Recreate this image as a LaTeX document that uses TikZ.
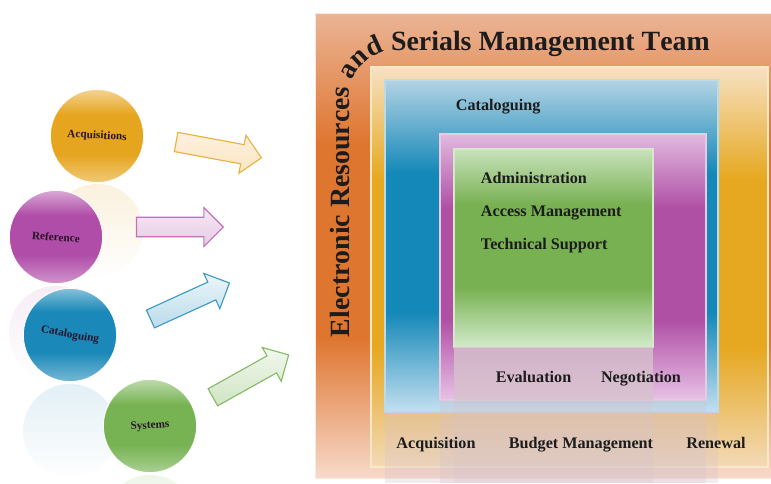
\documentclass[tikz,border=0pt]{standalone}
\usepackage{fontspec}
\setmainfont{Liberation Serif}
\usetikzlibrary{shapes.arrows,decorations.text,fadings}
\definecolor{acqcol}{HTML}{E6A51E}
\definecolor{refcol}{HTML}{B04DA8}
\definecolor{catcol}{HTML}{1A88B8}
\definecolor{syscol}{HTML}{77B353}
\definecolor{outertop}{HTML}{EBB496}
\definecolor{outermid}{HTML}{DF7630}
\definecolor{outerbot}{HTML}{F7DACB}
\definecolor{yeltop}{HTML}{F6E1C2}
\definecolor{yelmid}{HTML}{E6A820}
\definecolor{yelbot}{HTML}{F3DAB8}
\definecolor{bluetop}{HTML}{B3D3E4}
\definecolor{bluemid}{HTML}{1488B8}
\definecolor{bluebot}{HTML}{C4E0F0}
\definecolor{pinktop}{HTML}{E2B9DF}
\definecolor{pinkmid}{HTML}{B050A5}
\definecolor{pinkbot}{HTML}{E8C2E6}
\definecolor{greentop}{HTML}{C9E2BC}
\definecolor{greenmid}{HTML}{78B152}
\definecolor{greenbot}{HTML}{D2EBCB}
\definecolor{reflcol}{HTML}{D6C2CC}
\definecolor{labeltext}{HTML}{2A1428}
\definecolor{itemtext}{HTML}{1C1C1C}
% light at both ends, full colour in between (the path fills 25bp to 75bp)
\newcommand{\glossy}[4]{\pgfdeclareverticalshading{#1}{100bp}
  {color(0bp)=(#2); color(25bp)=(#2); color(40bp)=(#3); color(61bp)=(#3);
   color(75bp)=(#4); color(100bp)=(#4)}}
\glossy{outershade}{outerbot}{outermid}{outertop}
\glossy{yelshade}{yelbot}{yelmid}{yeltop}
\glossy{blueshade}{bluebot}{bluemid}{bluetop}
\glossy{pinkshade}{pinkbot}{pinkmid}{pinktop}
\glossy{greenshade}{greenbot}{greenmid}{greentop}
\glossy{acqshade}{acqcol!60!white}{acqcol}{acqcol!45!white}
\glossy{refshade}{refcol!60!white}{refcol}{refcol!45!white}
\glossy{catshade}{catcol!60!white}{catcol}{catcol!45!white}
\glossy{sysshade}{syscol!60!white}{syscol}{syscol!45!white}

\begin{document}
\begin{tikzpicture}
  [x=0.025cm, y=0.025cm,
  bubble/.style = {circle, minimum size=2.33cm, inner sep=0pt,
                   draw=white, line width=0.6pt,
                   font=\bfseries\fontsize{8}{9}\selectfont, text=labeltext},
  block/.style = {single arrow, minimum height=2.17cm, minimum width=0.95cm,
                  single arrow head extend=0.24cm, inner sep=0.23cm,
                  line width=0.8pt},
  item/.style = {font=\bfseries\fontsize{11.5}{13}\selectfont, text=itemtext}]
  \clip (0,0) rectangle (771,483);
  \fill[white] (0,0) rectangle (771,483);
  % Reflections of the circles
  \fill[acqcol, opacity=0.15, path fading=south] (97,253) circle (46);
  \fill[refcol, opacity=0.1, path fading=south] (56,150) circle (47);
  \fill[catcol, opacity=0.12, path fading=south] (70,52) circle (47);
  \fill[syscol, opacity=0.12, path fading=south] (150,-38) circle (46);
  % Circles
  \node[bubble, shading=acqshade, rotate=-3] (acq) at (97,347) {Acquisitions};
  \node[bubble, shading=refshade, rotate=-4] (ref) at (56,246) {Reference};
  \node[bubble, shading=catshade, rotate=-10] (cat) at (70,148) {Cataloguing};
  \node[bubble, shading=sysshade, rotate=4] (sys) at (150,57) {Systems};
  % Arrows
  \node[block, draw=acqcol!85!white, top color=white!88!orange,
        bottom color=acqcol!28!white, rotate=-10.5] (toacq) at (214,334) {};
  \node[block, draw=refcol!80!white, top color=refcol!12!white,
        bottom color=refcol!30!white] (toref) at (175,256) {};
  \node[block, draw=catcol!85!white, top color=catcol!8!white,
        bottom color=catcol!30!white, rotate=24.5] (tocat) at (185.5,180) {};
  \node[block, draw=syscol!90!white, top color=syscol!10!white,
        bottom color=syscol!35!white, rotate=29.2] (tosys) at (246.5,104.5) {};
  % Nested boxes
  \shade[shading=outershade] (315,5) rectangle (780,470);
  \draw[white!70!outertop, line width=0.6pt] (315,5) rectangle (780,470);
  \shade[shading=yelshade] (371,16) rectangle (768,416);
  \draw[white!75!yelmid, line width=1pt] (371,16) rectangle (768,416);
  \shade[shading=blueshade] (385,71) rectangle (718,403);
  \draw[white!70!bluemid, line width=0.8pt] (385,71) rectangle (718,403);
  \shade[shading=pinkshade] (440,83) rectangle (706,349);
  \draw[white!70!pinkmid, line width=0.8pt] (440,83) rectangle (706,349);
  \shade[shading=greenshade] (454,136) rectangle (653,334);
  \draw[white!70!greenmid, line width=0.8pt] (454,136) rectangle (653,334);
  % Reflections of the boxes
  \fill[reflcol, opacity=0.3] (385,0) rectangle (718,71);
  \fill[reflcol, opacity=0.3] (440,0) rectangle (706,83);
  \fill[reflcol, opacity=0.8] (454,83) rectangle (653,136);
  \fill[reflcol, opacity=0.25] (454,0) rectangle (653,83);
  % Title
  \path[decorate, decoration={text along path, text align=left,
        text={|\color{itemtext}\bfseries\fontsize{19.8}{22}\selectfont|Electronic Resources and Serials Management Team}}]
    [rounded corners=1.2cm] (349,146) -- (349,433) -- (760,433);
  % Team tasks
  \node[item, anchor=base west] (catalog) at (451,373) {Cataloguing};
  \node[item, anchor=base west] (admin) at (476,300) {Administration};
  \node[item, anchor=base west] (access) at (476,267) {Access Management};
  \node[item, anchor=base west] (support) at (476,234) {Technical Support};
  \node[item, anchor=base] (evaluation) at (533.5,101) {Evaluation};
  \node[item, anchor=base] (negotiation) at (641,101) {Negotiation};
  \node[item, anchor=base] (acquisition) at (436,35) {Acquisition};
  \node[item, anchor=base] (budget) at (581,35) {Budget Management};
  \node[item, anchor=base] (renewal) at (716,35) {Renewal};
\end{tikzpicture}
\end{document}
